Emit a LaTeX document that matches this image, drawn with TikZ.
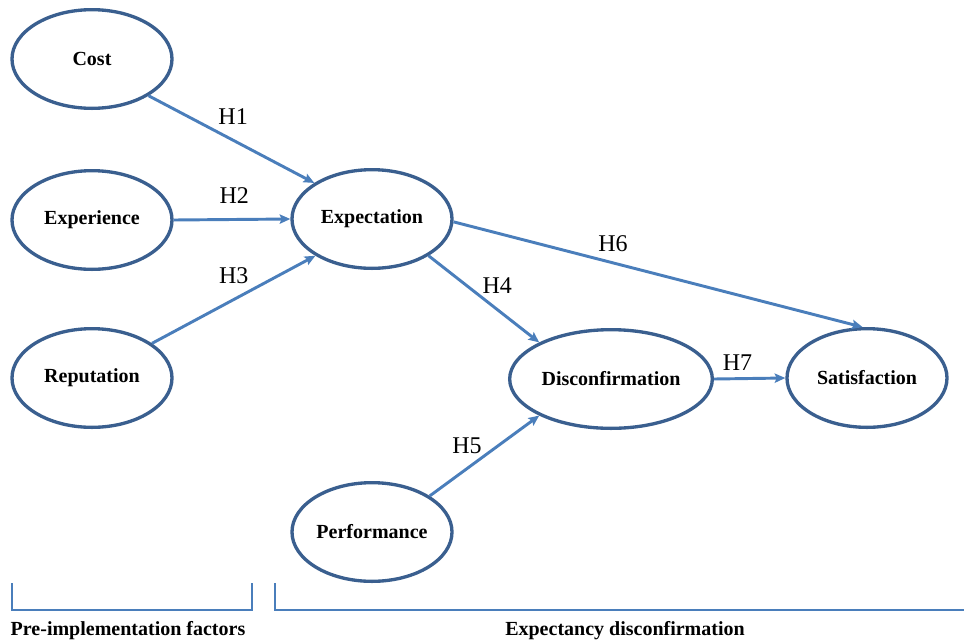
\documentclass[tikz,border=0pt]{standalone}
\usepackage{fontspec}
\setmainfont{Liberation Serif}
\usetikzlibrary{arrows.meta,shapes.geometric}

\definecolor{rimblue}{HTML}{3A5F8F}
\definecolor{pathblue}{HTML}{4A7EBB}

\begin{document}
\begin{tikzpicture} [x=0.75pt,y=-0.75pt,
  construct/.style={ellipse,draw=rimblue,line width=2.5pt,inner sep=0pt,minimum width=120pt,minimum height=74pt,font=\fontsize{15}{18}\selectfont\bfseries},
  hyp/.style={-{Stealth[length=8pt,width=7pt,inset=1.5pt]},color=pathblue,line width=2.2pt},
  hlabel/.style={inner sep=0pt,text=black,font=\fontsize{18}{20}\selectfont},
  group/.style={draw=pathblue,line width=2pt},
  caption/.style={anchor=base,inner sep=0pt,font=\fontsize{15}{18}\selectfont\bfseries}]

  \useasboundingbox (0,0) rectangle (964,640);

  \node[construct] (1) at (92,59)  {Cost};
  \node[construct] (2) at (92,220) {Experience};
  \node[construct] (3) at (92,378) {Reputation};
  \node[construct] (4) at (372,219) {Expectation};
  \node[construct] (5) at (611,379) [minimum width=152pt] {Disconfirmation};
  \node[construct] (6) at (867,378) {Satisfaction};
  \node[construct] (7) at (372,532) {Performance};

  \path[hyp]
    (1.-33) edge node[hlabel,pos=0.51,above=11pt] {H1} (4.148)
    (2.0) edge node[hlabel,pos=0.52,above=11pt] {H2} (4.180)
    (3.30) edge node[hlabel,pos=0.5,above=11pt] {H3} (4.213)
    (4.-33) edge node[hlabel,pos=0.62,above=11pt] {H4} (5.153)
    (7.32) edge node[hlabel,pos=0.34,above=10pt] {H5} (5.207)
    (4.-2) edge node[hlabel,pos=0.39,above=7.5pt] {H6} (6.95)
    (5.0) edge node[hlabel,pos=0.33,above=5pt] {H7} (6.180);

  \draw[group] (12,583) -- (12,610) -- (252,610) -- (252,583);
  \draw[group] (275,583) -- (275,610) -- (964,610);

  \node[caption] (8) at (128,635) {Pre-implementation factors};
  \node[caption] (9) at (625,635) {Expectancy disconfirmation};

\end{tikzpicture}
\end{document}
